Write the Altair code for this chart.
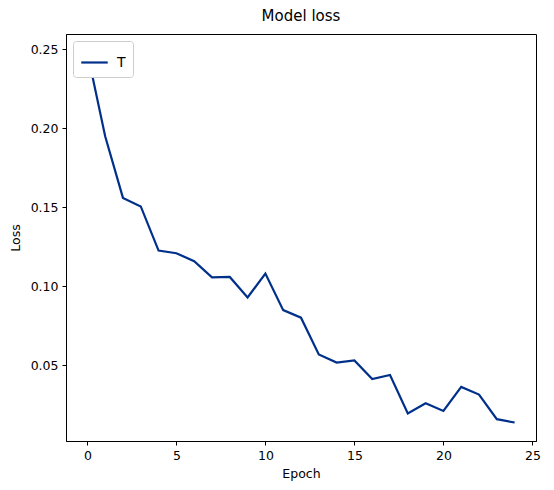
import altair as alt
import pandas as pd

epochs = list(range(25))
loss = [0.248, 0.195, 0.156, 0.1506, 0.1227, 0.121, 0.116, 0.1057, 0.106, 0.093,
        0.1081, 0.085, 0.0802, 0.057, 0.0518, 0.0532, 0.0414, 0.044, 0.0196, 0.0261,
        0.0212, 0.0364, 0.0316, 0.016, 0.0139]
series = ["T"] * len(epochs)
x_ticks = [0, 5, 10, 15, 20, 25]
y_ticks = [0.05, 0.10, 0.15, 0.20, 0.25]

df = pd.DataFrame({"Epoch": epochs, "Loss": loss, "series": series})

FONT = "DejaVu Sans"

chart = alt.Chart(df).mark_line(strokeWidth=2.2).encode(
    x=alt.X("Epoch:Q",
            scale=alt.Scale(domain=[-1.2, 25.2], nice=False, zero=False),
            axis=alt.Axis(values=x_ticks, title="Epoch", grid=False,
                          labelFontSize=12.5, titleFontSize=12.5, titleFontWeight="normal",
                          labelColor="black", titleColor="black",
                          tickColor="black", domainColor="black", tickSize=4,
                          labelPadding=4, titlePadding=6, labelFont=FONT, titleFont=FONT,
                          labelFlush=False)),
    y=alt.Y("Loss:Q",
            scale=alt.Scale(domain=[0.0022, 0.2597], nice=False, zero=False),
            axis=alt.Axis(values=y_ticks, format=".2f", title="Loss", grid=False,
                          labelFontSize=12.5, titleFontSize=12.5, titleFontWeight="normal",
                          labelColor="black", titleColor="black",
                          tickColor="black", domainColor="black", tickSize=4,
                          labelPadding=4, titlePadding=8, labelFont=FONT, titleFont=FONT,
                          labelFlush=False)),
    color=alt.Color("series:N",
                    scale=alt.Scale(domain=["T"], range=["#00308a"]),
                    legend=alt.Legend(title=None, orient="top-left", symbolType="stroke",
                                      symbolStrokeWidth=2.2, symbolSize=700,
                                      labelFontSize=14, labelFont=FONT, labelColor="black",
                                      labelOffset=8,
                                      fillColor="white", strokeColor="#cccccc",
                                      padding=7, cornerRadius=3, offset=7)),
).properties(
    width=470,
    height=407,
    title=alt.TitleParams("Model loss", fontSize=15, font=FONT, fontWeight="normal",
                          color="black", offset=10),
    padding={"left": 58, "top": 26, "right": 9, "bottom": 48},
    autosize=alt.AutoSizeParams(type="none"),
).configure_view(
    stroke="black", strokeWidth=1
)

chart.save("out.html", embed_options={"renderer": "svg", "actions": False})
